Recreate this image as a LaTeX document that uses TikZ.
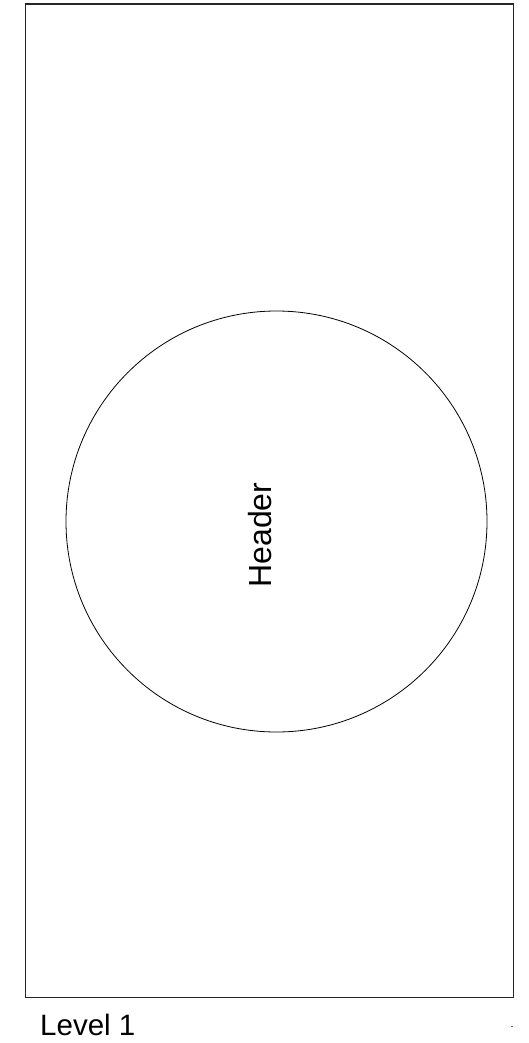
\documentclass[tikz,border=0pt]{standalone}
\usepackage{fontspec}
\setmainfont{Liberation Sans}
\begin{document}
\begin{tikzpicture}[x=1pt,y=-1pt,
  frame/.style={draw=black!85,line width=1.5pt},
  ring/.style={draw,line width=0.8pt},
  lbl/.style={inner sep=0pt,font=\fontsize{29.5}{31}\selectfont}]
\useasboundingbox (0,0) rectangle (529,1043);
\node[frame,minimum width=488pt,minimum height=993pt,inner sep=0pt,anchor=north west] (box) at (24.5,3.5) {};
\node[ring,circle,minimum size=421pt,inner sep=0pt] (circ) at (276.5,521.5) {};
\node[lbl,rotate=90,font=\fontsize{32}{34}\selectfont] (hdr) at (260,535) {Header};
\node[lbl,anchor=base west] (lev) at (40,1035) {Level 1};
\coordinate (dotA) at (511,1026);
\coordinate (dotB) at (512.5,1026);
\draw[line width=0.6pt,black!60] (dotA) -- (dotB);
\end{tikzpicture}
\end{document}
